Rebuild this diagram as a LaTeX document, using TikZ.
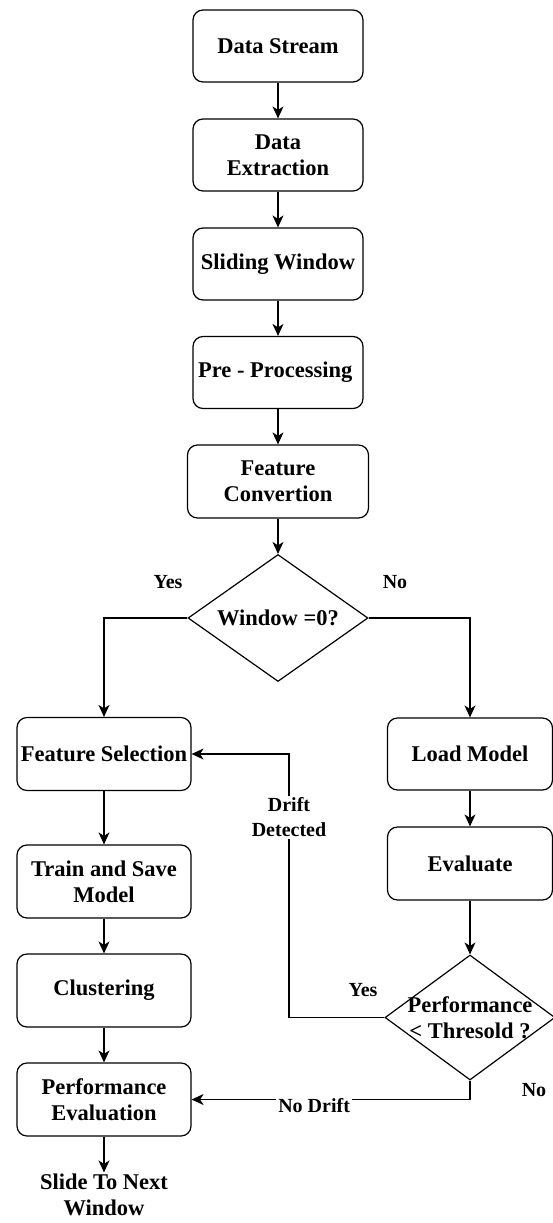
\documentclass[tikz,border=0pt]{standalone}
\usepackage{fontspec}
\setmainfont{Liberation Serif}
\usetikzlibrary{shapes.geometric,arrows.meta}

\begin{document}
\begin{tikzpicture}[x=1pt,y=-1pt,
  box/.style={draw,rounded corners=10pt,line width=1.2pt,align=center,inner sep=2pt,
    font=\fontsize{22.5}{26}\selectfont\bfseries},
  decision/.style={draw,diamond,line width=1.2pt,inner sep=0pt},
  txt/.style={align=center,inner sep=2pt,font=\fontsize{20}{25}\selectfont\bfseries},
  arr/.style={line width=1.2pt,-{Stealth[length=12pt,width=11pt,inset=3.5pt]}}]
\useasboundingbox (0,0) rectangle (553,1223);
  \foreach \nm/\yy/\lbl in
    {ds/46/Data Stream,
     de/155/Data\\Extraction,
     sw/264/Sliding Window,
     pp/372.5/Pre - Processing
    }
    \node[box,minimum width=170,minimum height=72] (\nm) at (278,\yy) {\lbl};
  \node[box,minimum width=181,minimum height=73] (fc) at (278,481.5) {Feature\\Convertion};
  \node[decision,minimum width=180,minimum height=127] (win) at (278,618) {};
  \node[box,draw=none] (wintxt) at (win) {Window =0?};
  \foreach \nm/\yy/\lbl in
    {fs/754/Feature Selection,
     ts/881.5/Train and Save\\Model,
     cl/990.5/Clustering,
     pe/1099.5/Performance\\Evaluation
    }
    \node[box,minimum width=174,minimum height=73] (\nm) at (104,\yy) {\lbl};
  \node[box,minimum width=165,minimum height=72] (lm) at (470,754) {Load Model};
  \node[box,minimum width=165,minimum height=73] (ev) at (470,863.5) {Evaluate};
  \node[decision,minimum width=170,minimum height=125] (perf) at (470,1017.5) {};
  \node[box,draw=none] (perftxt) at (perf) {Performance\\< Thresold ?};
  \node[box,draw=none,inner sep=1pt] (sl) at (104,1195) {Slide To Next\\Window};
  \foreach \a/\b in {ds/de,de/sw,sw/pp,pp/fc,fc/win,fs/ts,ts/cl,cl/pe,lm/ev,ev/perf,pe/sl}
    \draw[arr] (\a) -- (\b);
  \draw[arr] (win.west) -| (fs.north);
  \draw[arr] (win.east) -| (lm.north);
  \coordinate (bend) at (289,1017.5);
  \draw[arr] (perf.west) -- (bend) |- node[txt,pos=0.38,fill=white] (dd) {Drift\\Detected} (fs.east);
  \draw[arr] (perf.south) |- node[txt,pos=0.78,fill=white,yshift=-6pt] (nd) {No Drift} (pe.east);
  \node[txt] (y1) at (168,582) {Yes};
  \node[txt] (n1) at (395,582) {No};
  \node[txt] (y2) at (363,990) {Yes};
  \node[txt] (n2) at (534,1090) {No};
\end{tikzpicture}
\end{document}
